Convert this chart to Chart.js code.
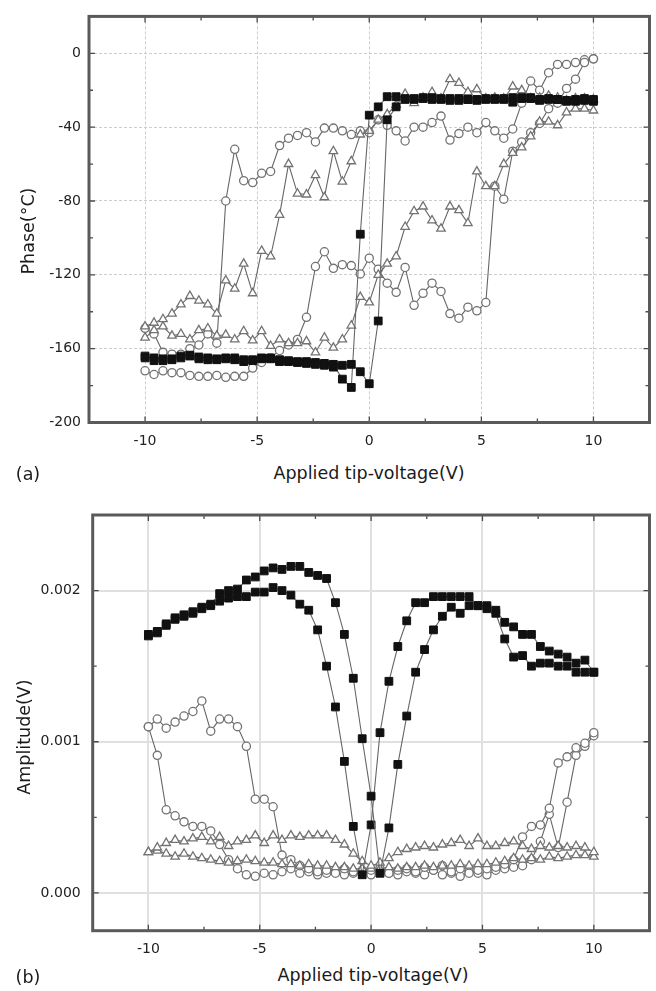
<!DOCTYPE html>
<html>
<head>
<meta charset="utf-8">
<script src="https://cdn.jsdelivr.net/npm/chart.js@4.4.1/dist/chart.umd.min.js"></script>
<style>
  body { margin: 0; background: #fff; }
  #page { position: relative; width: 656px; height: 991px; font-family: 'DejaVu Sans', sans-serif; color: #1a1a1a; }
  .box { position: absolute; left: 0; width: 656px; }
  .lbl { position: absolute; font-size: 17.5px; white-space: nowrap; transform: translate(-50%, -50%); }
  .lbl.rot { transform: translate(-50%, -50%) rotate(-90deg); }
</style>
</head>
<body>
<div id="page">
  <div class="box" style="top:0;height:456px"><canvas id="phaseChart"></canvas></div>
  <div class="box" style="top:490px;height:470px"><canvas id="ampChart"></canvas></div>

  <div class="lbl rot" style="left:28px;top:231px">Phase(°C)</div>
  <div class="lbl" style="left:369px;top:473px">Applied tip-voltage(V)</div>
  <div class="lbl" style="left:28px;top:474px">(a)</div>

  <div class="lbl rot" style="left:24px;top:737px">Amplitude(V)</div>
  <div class="lbl" style="left:373px;top:975px">Applied tip-voltage(V)</div>
  <div class="lbl" style="left:28px;top:977px">(b)</div>
</div>

<script>
// ── Data ──────────────────────────────────────────────────────────────────
// every sweep is sampled on the same tip-voltage grid (V)
const voltage = [
  -10, -9.6, -9.2, -8.8, -8.4, -8, -7.6, -7.2, -6.8, -6.4,
  -6, -5.6, -5.2, -4.8, -4.4, -4, -3.6, -3.2, -2.8, -2.4,
  -2, -1.6, -1.2, -0.8, -0.4, 0, 0.4, 0.8, 1.2, 1.6,
  2, 2.4, 2.8, 3.2, 3.6, 4, 4.4, 4.8, 5.2, 5.6,
  6, 6.4, 6.8, 7.2, 7.6, 8, 8.4, 8.8, 9.2, 9.6, 10
];

// (a) phase (°)
const phaseSquare1 = [
  -165, -166.5, -166.5, -166, -165, -164, -165.5, -166, -166, -165.5,
  -166, -167, -166.5, -165.5, -165.5, -167, -167, -167.5, -168, -168.5,
  -169, -170, -169, -168.5, -172.5, -179, -145, -36, -29, -25,
  -24.5, -24.5, -25, -24.5, -25.5, -25.5, -25, -25.5, -25, -25,
  -25, -26.5, -24, -24.5, -25.5, -25, -25, -26, -26, -25.5, -25
];
const phaseSquare2 = [
  -164, -165, -165.5, -165.5, -164, -163.5, -164.5, -165, -165.5, -165,
  -165, -166, -166, -165, -165, -166, -166.5, -167, -167, -167.5,
  -168, -168.5, -176.5, -181, -98, -33.5, -29, -23.5, -23.5, -24.5,
  -25, -24, -24, -25, -24.5, -24.5, -25, -25, -24.5, -24.5,
  -24.5, -24, -24.5, -24, -25, -24.5, -25, -25.5, -25, -24.5, -26
];
const phaseCircle1 = [
  -172, -174, -172, -173, -173, -174.5, -175, -175, -174.5, -175.5,
  -175, -175, -170.5, -167.5, -165, -161, -158, -155, -143, -115.5,
  -107.5, -116.5, -114.5, -115, -119.5, -111, -117, -124.5, -129.5, -116,
  -136.5, -130, -124.5, -129, -141, -143.5, -137.5, -139.5, -135, -72,
  -79, -53, -48, -43, -38, -30, -27, -19, -14, -5, -3
];
const phaseCircle2 = [
  -149, -152, -162, -163, -163, -160, -158, -152, -157, -80,
  -52, -69, -70, -65, -64, -50, -46, -44.5, -43, -48,
  -40.5, -40.5, -42, -44, -42, -43, -36, -39, -42, -47.5,
  -40, -40, -37.5, -34, -47, -43.5, -40, -43, -37.5, -42,
  -46, -41, -27, -15, -20, -10.5, -6, -6, -5, -3.5, -3
];
const phaseTriangle1 = [
  -148, -146, -144, -141, -136, -131.5, -134, -136, -141, -123,
  -127.5, -114, -130, -107, -110, -87.5, -60, -76, -76.5, -66,
  -78, -53, -69.5, -58.5, -44, -42, -36, -33, -28, -22,
  -27, -24, -21, -24.5, -14, -16, -21, -19.5, -24.5, -24,
  -24.5, -18, -20, -24.5, -24, -23, -24, -25.5, -24.5, -24.5, -25
];
const phaseTriangle2 = [
  -154, -150, -148, -153, -152, -155, -150, -149, -153, -152.5,
  -155, -150.5, -155.5, -150.5, -158.5, -155, -157, -157, -156, -162,
  -154, -159.5, -155, -147.5, -132, -135, -120, -114, -110, -94,
  -85.5, -83, -90.5, -95, -83, -85, -92, -64, -72, -72,
  -60, -54, -51, -45, -37, -37, -39, -32, -30, -30, -31
];

// (b) amplitude (V)
const ampSquare1 = [
  0.00171, 0.00173, 0.00178, 0.00182, 0.00184, 0.00186, 0.00189, 0.00191, 0.00198, 0.00200,
  0.00201, 0.00207, 0.00209, 0.00213, 0.00215, 0.00214, 0.00216, 0.00216, 0.00212, 0.00210,
  0.00208, 0.00192, 0.00171, 0.00142, 0.00102, 0.00064, 0.00013, 0.00043, 0.00085, 0.00117,
  0.00146, 0.00161, 0.00174, 0.00183, 0.00189, 0.00185, 0.00190, 0.00190, 0.00188, 0.00185,
  0.00168, 0.00156, 0.00157, 0.00150, 0.00152, 0.00152, 0.00150, 0.00150, 0.00146, 0.00146, 0.00146
];
const ampSquare2 = [
  0.00170, 0.00172, 0.00177, 0.00181, 0.00183, 0.00185, 0.00188, 0.00190, 0.00193, 0.00195,
  0.00196, 0.00196, 0.00199, 0.00199, 0.00202, 0.00200, 0.00197, 0.00191, 0.00187, 0.00174,
  0.00150, 0.00123, 0.00087, 0.00044, 0.00012, 0.00045, 0.00106, 0.00140, 0.00163, 0.00180,
  0.00192, 0.00192, 0.00196, 0.00196, 0.00196, 0.00196, 0.00196, 0.00190, 0.00190, 0.00187,
  0.00179, 0.00176, 0.00171, 0.00171, 0.00163, 0.00160, 0.00158, 0.00156, 0.00152, 0.00154, 0.00146
];
const ampCircle1 = [
  0.00110, 0.00115, 0.00109, 0.00113, 0.00117, 0.00120, 0.00127, 0.00107, 0.00115, 0.00115,
  0.00110, 0.00097, 0.00062, 0.00062, 0.00057, 0.00025, 0.00022, 0.00018, 0.00016, 0.00014,
  0.00015, 0.00013, 0.00016, 0.00014, 0.00013, 0.00015, 0.00014, 0.00013, 0.00015, 0.00016,
  0.00014, 0.00017, 0.00015, 0.00018, 0.00014, 0.00016, 0.00013, 0.00015, 0.00016, 0.00017,
  0.00019, 0.00022, 0.00037, 0.00044, 0.00045, 0.00056, 0.00086, 0.00090, 0.00096, 0.00099, 0.00106
];
const ampCircle2 = [
  0.00110, 0.00091, 0.00055, 0.00051, 0.00047, 0.00044, 0.00044, 0.00041, 0.00032, 0.00022,
  0.00016, 0.00012, 0.00011, 0.00013, 0.00012, 0.00014, 0.00016, 0.00013, 0.00014, 0.00012,
  0.00013, 0.00014, 0.00012, 0.00013, 0.00015, 0.00012, 0.00016, 0.00013, 0.00012, 0.00014,
  0.00013, 0.00012, 0.00015, 0.00012, 0.00013, 0.00011, 0.00014, 0.00013, 0.00012, 0.00015,
  0.00016, 0.00017, 0.00018, 0.00022, 0.00034, 0.00052, 0.00030, 0.00060, 0.00091, 0.00097, 0.00104
];
const ampTriangle1 = [
  0.00027, 0.00030, 0.00033, 0.00035, 0.00034, 0.00036, 0.00037, 0.00034, 0.00037, 0.00031,
  0.00034, 0.00035, 0.00038, 0.00033, 0.00038, 0.00035, 0.00038, 0.00037, 0.00038, 0.00038,
  0.00038, 0.00035, 0.00032, 0.00026, 0.00021, 0.00018, 0.00020, 0.00023, 0.00027, 0.00029,
  0.00030, 0.00031, 0.00030, 0.00032, 0.00033, 0.00035, 0.00031, 0.00036, 0.00031, 0.00031,
  0.00033, 0.00034, 0.00031, 0.00029, 0.00031, 0.00030, 0.00031, 0.00030, 0.00031, 0.00030, 0.00027
];
const ampTriangle2 = [
  0.00027, 0.00028, 0.00026, 0.00024, 0.00026, 0.00024, 0.00023, 0.00022, 0.00021, 0.00020,
  0.00021, 0.00022, 0.00021, 0.00020, 0.00020, 0.00019, 0.00019, 0.00018, 0.00019, 0.00018,
  0.00018, 0.00017, 0.00017, 0.00016, 0.00016, 0.00016, 0.00016, 0.00017, 0.00016, 0.00017,
  0.00017, 0.00018, 0.00017, 0.00018, 0.00018, 0.00019, 0.00018, 0.00019, 0.00019, 0.00020,
  0.00021, 0.00023, 0.00022, 0.00023, 0.00022, 0.00024, 0.00023, 0.00024, 0.00025, 0.00025, 0.00024
];

// axis ticks
const xTicks      = [-10, -5, 0, 5, 10];
const xMinorTicks = [-10, -7.5, -5, -2.5, 0, 2.5, 5, 7.5, 10];
const phaseTicks      = [-200, -160, -120, -80, -40, 0];
const phaseMinorTicks = [-200, -180, -160, -140, -120, -100, -80, -60, -40, -20, 0];
const ampTicks      = [0, 0.001, 0.002];
const ampMinorTicks = [0, 0.0005, 0.001, 0.0015, 0.002];

// ── Styles ────────────────────────────────────────────────────────────────
const FONT = { family: 'DejaVu Sans', size: 14 };

const squareStyle = {
  pointStyle: 'rect', pointRadius: 5.5,
  pointBackgroundColor: '#111', pointBorderColor: '#111', pointBorderWidth: 1,
};
const circleStyle = {
  pointStyle: 'circle', pointRadius: 4.1,
  pointBackgroundColor: '#fff', pointBorderColor: '#737373', pointBorderWidth: 1.3,
};
const triangleStyle = {
  pointStyle: 'triangle', pointRadius: 4.9,
  pointBackgroundColor: '#fff', pointBorderColor: '#737373', pointBorderWidth: 1.3,
};

function series(label, values, style) {
  return Object.assign({
    label,
    data       : voltage.map((v, i) => ({ x: v, y: values[i] })),
    showLine   : true,
    borderColor: '#666',
    borderWidth: 1.1,
  }, style);
}

// frame + inward tick marks on all four sides
const framePlugin = {
  id: 'frame',
  afterDraw(chart, args, opts) {
    const { ctx, chartArea: a, scales: { x, y } } = chart;
    ctx.save();
    ctx.strokeStyle = '#4a4a4a';
    ctx.lineWidth = 1.3;
    ctx.beginPath();
    opts.xMinor.forEach(v => {
      const px = x.getPixelForValue(v);
      const len = opts.xMajor.includes(v) ? 6 : 4;
      ctx.moveTo(px, a.bottom); ctx.lineTo(px, a.bottom - len);
      ctx.moveTo(px, a.top);    ctx.lineTo(px, a.top + len);
    });
    opts.yMinor.forEach(v => {
      const py = y.getPixelForValue(v);
      const len = opts.yMajor.includes(v) ? 6 : 4;
      ctx.moveTo(a.left, py);  ctx.lineTo(a.left + len, py);
      ctx.moveTo(a.right, py); ctx.lineTo(a.right - len, py);
    });
    ctx.stroke();
    ctx.strokeStyle = '#5a5a5a';
    ctx.lineWidth = 3;
    ctx.strokeRect(a.left, a.top, a.right - a.left, a.bottom - a.top);
    ctx.restore();
  },
};

function makeChart(id, datasets, o) {
  return new Chart(document.getElementById(id), {
    type: 'scatter',
    data: { datasets },
    options: {
      responsive: true,
      maintainAspectRatio: false,
      animation: false,
      events: [],
      layout: { padding: o.padding },
      plugins: {
        legend : { display: false },
        tooltip: { enabled: false },
        frame  : o.frame,
      },
      scales: {
        x: {
          type: 'linear', min: -12.5, max: 12.5,
          afterBuildTicks: s => { s.ticks = xTicks.map(v => ({ value: v })); },
          afterFit: s => { s.height = o.xHeight; },
          grid  : o.grid,
          border: o.border,
          ticks : { padding: 10, color: '#222', font: FONT, callback: v => String(v) },
        },
        y: {
          type: 'linear', min: o.yMin, max: o.yMax,
          afterBuildTicks: s => { s.ticks = o.yTicks.map(v => ({ value: v })); },
          afterFit: s => { s.width = o.yWidth; },
          grid  : o.grid,
          border: o.border,
          ticks : { padding: o.yPad, color: '#222', font: FONT, callback: o.yFormat },
        },
      },
    },
    plugins: [framePlugin],
  });
}

// ── (a) Phase ─────────────────────────────────────────────────────────────
makeChart('phaseChart', [
  series('square 1',   phaseSquare1,   squareStyle),
  series('square 2',   phaseSquare2,   squareStyle),
  series('triangle 1', phaseTriangle1, triangleStyle),
  series('triangle 2', phaseTriangle2, triangleStyle),
  series('circle 1',   phaseCircle1,   circleStyle),
  series('circle 2',   phaseCircle2,   circleStyle),
], {
  padding: { left: 0, right: 3, top: 8, bottom: 0 },
  xHeight: 33.5, yWidth: 89, yPad: 8,
  yMin: -200, yMax: 20, yTicks: phaseTicks,
  yFormat: v => String(v),
  grid  : { color: '#cdcdcd', lineWidth: 1, drawTicks: false },
  border: { display: false, dash: [3, 2] },
  frame : { xMajor: xTicks, xMinor: xMinorTicks, yMajor: phaseTicks, yMinor: phaseMinorTicks },
});

// ── (b) Amplitude ─────────────────────────────────────────────────────────
makeChart('ampChart', [
  series('square 1',   ampSquare1,   squareStyle),
  series('square 2',   ampSquare2,   squareStyle),
  series('triangle 1', ampTriangle1, triangleStyle),
  series('triangle 2', ampTriangle2, triangleStyle),
  series('circle 1',   ampCircle1,   circleStyle),
  series('circle 2',   ampCircle2,   circleStyle),
], {
  padding: { left: 0, right: 2.3, top: 25, bottom: 0 },
  xHeight: 29.3, yWidth: 92.7, yPad: 12,
  yMin: -0.00025, yMax: 0.0025, yTicks: ampTicks,
  yFormat: v => v.toFixed(3),
  grid  : { color: '#e0e0e0', lineWidth: 2, drawTicks: false },
  border: { display: false },
  frame : { xMajor: xTicks, xMinor: xMinorTicks, yMajor: ampTicks, yMinor: ampMinorTicks },
});
</script>
</body>
</html>
